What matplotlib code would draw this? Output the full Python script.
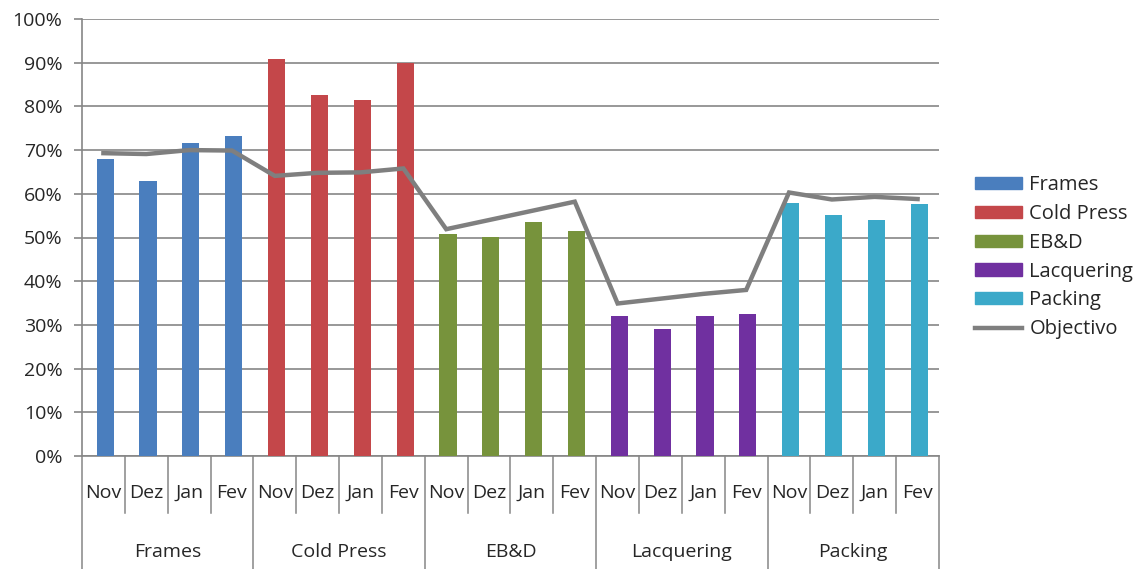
import matplotlib.pyplot as plt
from matplotlib.patches import Patch
from matplotlib.lines import Line2D
from matplotlib.ticker import PercentFormatter
import numpy as np

plt.rcParams['font.family'] = ['Open Sans', 'DejaVu Sans']

sections = ["Frames", "Cold Press", "EB&D", "Lacquering", "Packing"]
months = ["Nov", "Dez", "Jan", "Fev"]
colors = ["#4a7ebe", "#c4474a", "#77933c", "#7030a0", "#3ba9c9"]

# monthly results per section (%)
frames = [68.0, 63.0, 71.6, 73.2]
cold_press = [90.8, 82.6, 81.5, 89.9]
ebd = [50.7, 50.2, 53.6, 51.6]
lacquering = [32.0, 29.1, 32.0, 32.4]
packing = [58.0, 55.1, 54.0, 57.7]

# target line, one value per month of each section
objectivo = [69.3, 69.1, 70.0, 69.9,
             64.1, 64.8, 64.9, 65.8,
             51.9, 54.0, 56.1, 58.2,
             34.9, 36.0, 37.1, 38.0,
             60.3, 58.7, 59.3, 58.8]

results = [frames, cold_press, ebd, lacquering, packing]
grid_col = "#868686"
text_col = "#262626"
fs = 14

fig = plt.figure(figsize=(11.46, 5.69), dpi=100)
ax = fig.add_axes([82 / 1146, 113 / 569, 857 / 1146, 437 / 569])

n_m = len(months)
for g, (vals, c) in enumerate(zip(results, colors)):
    x = np.arange(n_m) + g * n_m + 0.54
    ax.bar(x, vals, width=0.4, color=c, zorder=3)

xs = np.arange(len(objectivo)) + 0.5
ax.plot(xs, objectivo, color="#7f7f7f", lw=3.2, zorder=4,
        solid_joinstyle="miter")

ax.set_xlim(0, len(sections) * n_m)
ax.set_ylim(0, 100)
ax.set_yticks(np.arange(0, 101, 10))
ax.yaxis.set_major_formatter(PercentFormatter(decimals=0))
ax.grid(axis="y", color=grid_col, lw=1.2, zorder=0)
ax.tick_params(axis="y", length=6, color=grid_col, width=1.2,
               labelsize=fs, labelcolor=text_col, pad=8)
ax.tick_params(axis="x", length=0, labelbottom=False)
for s in ["top", "right"]:
    ax.spines[s].set_visible(False)
for s in ["left", "bottom"]:
    ax.spines[s].set_color(grid_col)
    ax.spines[s].set_linewidth(1.2)

# two-level category axis
trans = ax.get_xaxis_transform()
for i in range(len(sections) * n_m + 1):
    bottom = -0.26 if i % n_m == 0 else -0.13
    ax.plot([i, i], [0, bottom], transform=trans, color=grid_col,
            lw=1.1, clip_on=False)
for i in range(len(sections) * n_m):
    ax.text(i + 0.5, -0.085, months[i % n_m], transform=trans,
            ha="center", va="center", fontsize=fs, color=text_col)
for g, name in enumerate(sections):
    ax.text(g * n_m + n_m / 2, -0.22, name, transform=trans,
            ha="center", va="center", fontsize=fs, color=text_col)

handles = [Patch(color=c, label=s) for s, c in zip(sections, colors)]
handles.append(Line2D([], [], color="#7f7f7f", lw=3.2, label="Objectivo"))
fig.legend(handles=handles, loc="upper left",
           bbox_to_anchor=(975 / 1146, 1 - 175 / 569),
           frameon=False, fontsize=14.5, handlelength=2.35, handleheight=0.55,
           handletextpad=0.35, labelspacing=0.44, borderpad=0, borderaxespad=0,
           labelcolor=text_col)

fig.savefig("out.png", dpi=100)
